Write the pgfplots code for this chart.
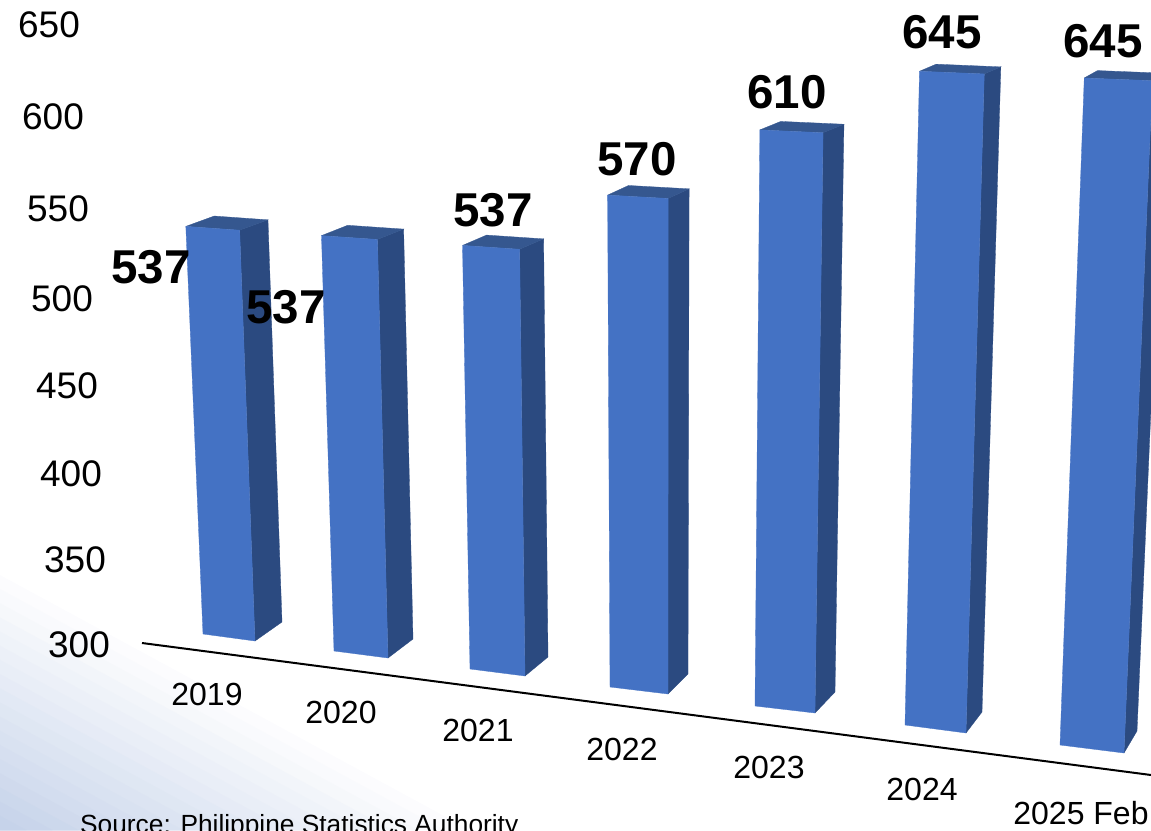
\documentclass[border=0pt]{standalone}
\usepackage{pgfplots}
\pgfplotsset{compat=1.18}
\usepackage{fontspec}
\setmainfont{Liberation Sans}

\definecolor{barfront}{HTML}{4472C4}
\definecolor{barside}{HTML}{2B4A80}
\definecolor{bartop}{HTML}{35578F}
\definecolor{washblue}{HTML}{C6D3EA}

% Project a floor point upward by its value on the receding 3D scale:
% pixels per unit grow toward the viewer, verticals converge downward.
\newcommand\liftpoint[4]{%
  \pgfmathsetmacro\hgt{(#3-300)*(1.72+0.00192*(#2-634))}%
  \pgfmathsetmacro\px{#1+(#1-663)*0.0000905*\hgt}%
  \pgfmathsetmacro\py{#2-\hgt}%
  \expandafter\let\csname #4x\endcsname\px
  \expandafter\let\csname #4y\endcsname\py
}

% #1 value; #2,#3 front-left floor; #4,#5 front-right floor; #6,#7 back-right floor
\newcommand\columnbar[7]{%
  \pgfmathsetmacro\blx{#2+#6-#4}%
  \pgfmathsetmacro\bly{#3+#7-#5}%
  \liftpoint{#2}{#3}{#1}{TL}%
  \liftpoint{#4}{#5}{#1}{TR}%
  \liftpoint{#6}{#7}{#1}{TK}%
  \liftpoint{\blx}{\bly}{#1}{TB}%
  \addplot[fill=barside,draw=barside,line width=0.3pt]
    coordinates {(#4,#5) (#6,#7) (\TKx,\TKy) (\TRx,\TRy) (#4,#5)};
  \addplot[fill=bartop,draw=bartop,line width=0.3pt]
    coordinates {(\TLx,\TLy) (\TRx,\TRy) (\TKx,\TKy) (\TBx,\TBy) (\TLx,\TLy)};
  \addplot[fill=barfront,draw=barfront,line width=0.3pt]
    coordinates {(#2,#3) (#4,#5) (\TRx,\TRy) (\TLx,\TLy) (#2,#3)};
}

\newcommand\scalelabel[3]{\node[font=\fontsize{37}{40}\selectfont] at (axis cs:#1,#2) {#3};}
\newcommand\yearlabel[3]{\node[font=\fontsize{32}{36}\selectfont] at (axis cs:#1,#2) {#3};}
\newcommand\valuelabel[3]{\node[font=\fontsize{47.5}{50}\selectfont\bfseries] at (axis cs:#1,#2) {#3};}

\begin{document}
\begin{tikzpicture}[x=1pt,y=1pt]
\useasboundingbox (0,0) rectangle (1151,830);
% soft streaked wash in the lower left corner
\foreach \i in {0,...,17}{
  \pgfmathsetmacro\s{1-\i/18}
  \pgfmathsetmacro\m{(\i+1)/18*100}
  \fill[washblue!\m!white] (0,{255*\s}) -- ({470*\s},0) -- (0,0) -- cycle;
}
\begin{axis}[
  at={(0,0)},anchor=south west,
  width=1151pt,height=830pt,scale only axis,
  xmin=0,xmax=1151,ymin=0,ymax=830,y dir=reverse,
  hide axis,clip=true]

% floor line
\addplot[black,line width=2pt] coordinates {(142,643) (1151,775)};

\columnbar{537}{203}{634}{255}{641}{282}{622}
\columnbar{537}{334}{651}{388}{658}{413}{639}
\columnbar{537}{470}{669}{525}{676}{548}{657}
\columnbar{570}{610}{687}{668}{694}{688}{674}
\columnbar{610}{755}{706}{815}{713}{835}{692}
\columnbar{645}{905}{725}{966}{733}{982}{712}
\columnbar{645}{1060}{745}{1124}{753}{1137}{731}

\scalelabel{49}{25}{650}
\scalelabel{53}{117}{600}
\scalelabel{58}{209}{550}
\scalelabel{62}{299}{500}
\scalelabel{67}{386}{450}
\scalelabel{71}{474}{400}
\scalelabel{75}{560}{350}
\scalelabel{79}{645}{300}

\yearlabel{207}{694}{2019}
\yearlabel{341}{712}{2020}
\yearlabel{478}{730}{2021}
\yearlabel{622}{749}{2022}
\yearlabel{769}{767}{2023}
\yearlabel{922}{789}{2024}
\yearlabel{1081}{813}{2025 Feb}

\valuelabel{151}{267}{537}
\valuelabel{286}{307}{537}
\valuelabel{493}{210}{537}
\valuelabel{637}{159}{570}
\valuelabel{787}{92}{610}
\valuelabel{942}{32}{645}
\valuelabel{1103}{41}{645}

\node[anchor=base west,inner sep=0pt,font=\fontsize{26.3}{30}\selectfont] at (axis cs:80,833) {Source: Philippine Statistics Authority};
\end{axis}
\end{tikzpicture}
\end{document}
